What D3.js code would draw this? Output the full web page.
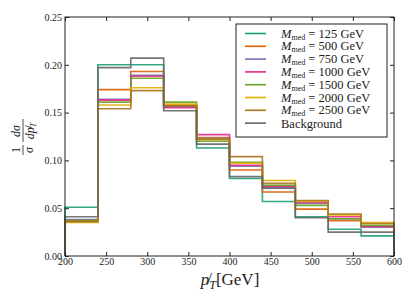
<!DOCTYPE html>
<html><head><meta charset="utf-8">
<script src="https://cdn.jsdelivr.net/npm/d3@7"></script>
<style>body{margin:0;background:#fff}svg{display:block}</style>
</head><body><svg id="c" width="415" height="306" font-family="Liberation Serif, DejaVu Serif, serif"></svg>
<script>
const binEdges = [200,240,280,320,360,400,440,480,520,560,600];
const seriesNames = ["125","500","750","1000","1500","2000","2500","Background"];
const colors = ["#1b9e77","#d95f02","#7570b3","#e7298a","#66a61e","#e6ab02","#a6761d","#666666"];
const m125  = [0.051,0.200,0.200,0.157,0.113,0.081,0.057,0.041,0.028,0.021];
const m500  = [0.037,0.174,0.193,0.158,0.124,0.090,0.067,0.049,0.037,0.031];
const m750  = [0.038,0.164,0.189,0.156,0.123,0.094,0.072,0.055,0.039,0.030];
const m1000 = [0.037,0.163,0.188,0.155,0.127,0.095,0.073,0.056,0.041,0.031];
const m1500 = [0.037,0.161,0.186,0.161,0.120,0.098,0.074,0.053,0.039,0.032];
const m2000 = [0.035,0.158,0.176,0.159,0.122,0.097,0.079,0.057,0.043,0.035];
const m2500 = [0.036,0.154,0.173,0.157,0.122,0.104,0.076,0.058,0.044,0.034];
const bkg   = [0.041,0.197,0.207,0.152,0.117,0.083,0.071,0.040,0.025,0.025];
const series = [m125,m500,m750,m1000,m1500,m2000,m2500,bkg];
const xTicks = [200,250,300,350,400,450,500,550,600];
const yTicks = [0,0.05,0.10,0.15,0.20,0.25];

const FF="Liberation Serif, DejaVu Serif, serif";
const svg = d3.select("#c");
const L=65,R=394,T=17,B=256;
const x = d3.scaleLinear().domain([200,600]).range([L,R]);
const y = d3.scaleLinear().domain([0,0.25]).range([B,T]);

series.forEach((s,i)=>{
  const pts=[[binEdges[0],0]];
  s.forEach((v,j)=>{pts.push([binEdges[j],v]);pts.push([binEdges[j+1],v]);});
  pts.push([binEdges[binEdges.length-1],0]);
  svg.append("path").attr("d",d3.line().x(d=>x(d[0])).y(d=>y(d[1]))(pts))
    .attr("fill","none").attr("stroke",colors[i]).attr("stroke-width",1.6).attr("stroke-opacity",0.9);
});

const fmt=d3.format(".2f");
function styleAxis(g){g.attr("font-family",FF);g.select(".domain").remove();g.selectAll("line").attr("stroke","#222");g.selectAll("text").attr("font-size",10).attr("fill","#222").attr("font-family",FF);}
svg.append("g").attr("transform",`translate(0,${B})`).call(d3.axisBottom(x).tickValues(xTicks).tickSizeInner(-4).tickSizeOuter(0).tickPadding(2)).call(styleAxis);
svg.append("g").attr("transform",`translate(0,${T})`).call(d3.axisTop(x).tickValues(xTicks).tickSizeInner(-4).tickSizeOuter(0).tickFormat("")).call(styleAxis);
svg.append("g").attr("transform",`translate(${L},0)`).call(d3.axisLeft(y).tickValues(yTicks).tickFormat(fmt).tickSizeInner(-4).tickSizeOuter(0).tickPadding(3)).call(styleAxis);
svg.append("g").attr("transform",`translate(${R},0)`).call(d3.axisRight(y).tickValues(yTicks).tickFormat("").tickSizeInner(-4).tickSizeOuter(0)).call(styleAxis);
svg.append("rect").attr("x",L).attr("y",T).attr("width",R-L).attr("height",B-T).attr("fill","none").attr("stroke","#222").attr("stroke-width",1);

// x label
const xl=svg.append("text").attr("x",230).attr("y",285).attr("text-anchor","middle").attr("font-size",17).attr("fill","#222").attr("font-family",FF);
xl.append("tspan").attr("font-style","italic").text("p\u0338");
xl.append("tspan").attr("font-style","italic").attr("font-size",12).attr("dy",4).text("T");
xl.append("tspan").attr("dy",-4).text("[GeV]");

// y label
const yl=svg.append("g").attr("transform","translate(23,137) rotate(-90)").attr("font-family",FF).attr("fill","#222");
yl.append("text").attr("x",-13).attr("y",-3).attr("text-anchor","middle").attr("font-size",12).text("1");
yl.append("line").attr("x1",-18).attr("x2",-8).attr("y1",0).attr("y2",0).attr("stroke","#222").attr("stroke-width",0.8);
yl.append("text").attr("x",-13).attr("y",10).attr("text-anchor","middle").attr("font-size",12).attr("font-style","italic").text("σ");
yl.append("text").attr("x",6).attr("y",-3).attr("text-anchor","middle").attr("font-size",12).attr("font-style","italic").text("dσ");
yl.append("line").attr("x1",-5).attr("x2",18).attr("y1",0).attr("y2",0).attr("stroke","#222").attr("stroke-width",0.8);
const dn=yl.append("text").attr("x",6).attr("y",11).attr("text-anchor","middle").attr("font-size",12).attr("font-style","italic");
dn.append("tspan").text("dp\u0338");
dn.append("tspan").attr("font-size",8).attr("dy",2).text("T");

// legend
const lg=svg.append("g").attr("font-family",FF);
lg.append("rect").attr("x",236).attr("y",24).attr("width",151).attr("height",113).attr("fill","#fff").attr("stroke","#222").attr("stroke-width",1);
seriesNames.forEach((n,i)=>{
  const yy=33.5+i*12.8;
  lg.append("line").attr("x1",245).attr("x2",266).attr("y1",yy).attr("y2",yy).attr("stroke",colors[i]).attr("stroke-width",1.6);
  const t=lg.append("text").attr("x",281).attr("y",yy+4).attr("font-size",12.5).attr("fill","#222");
  if(n==="Background"){t.attr("y",yy+5).text("Background");}
  else{
    t.append("tspan").attr("font-style","italic").text("M");
    t.append("tspan").attr("font-size",8).attr("dy",2).text("med");
    t.append("tspan").attr("dy",-2).text(" = "+n+" GeV");
  }
});
</script></body></html>
